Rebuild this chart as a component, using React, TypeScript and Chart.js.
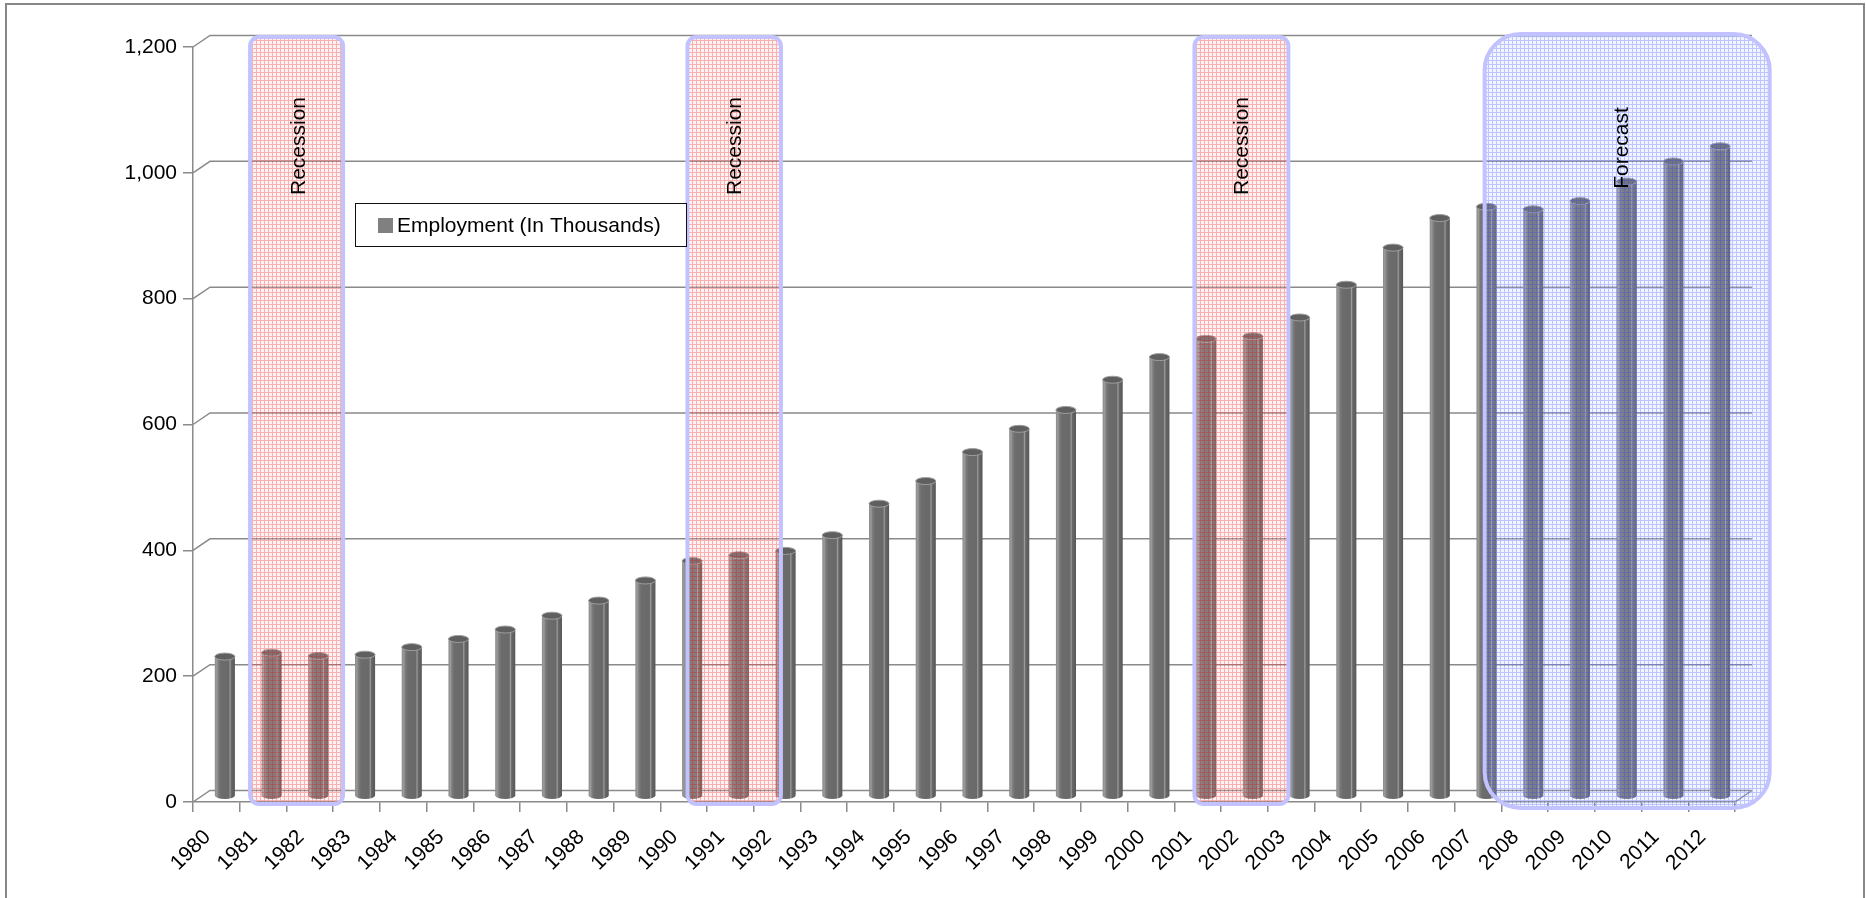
import { useEffect, useRef } from 'react';
import { Chart, registerables } from 'chart.js';

Chart.register(...registerables);

// Annual employment, thousands
const years = [
  '1980', '1981', '1982', '1983', '1984', '1985', '1986', '1987', '1988', '1989',
  '1990', '1991', '1992', '1993', '1994', '1995', '1996', '1997', '1998', '1999',
  '2000', '2001', '2002', '2003', '2004', '2005', '2006', '2007', '2008', '2009',
  '2010', '2011', '2012',
];
const employment = [
  222, 228, 223, 225, 237, 250, 265, 287, 311, 343,
  374, 383, 390, 415, 465, 501, 547, 584, 614, 662,
  698, 727, 731, 761, 813, 872, 919, 937, 933, 946,
  977, 1009, 1033,
];
const seriesLabel = 'Employment (In Thousands)';
const yMin = 0;
const yMax = 1200;
const yStep = 200;

// Highlighted periods, in category-index units (0 = 1980)
const recessionSpans: [number, number][] = [
  [0.54, 2.53],
  [9.9, 11.9],
  [20.75, 22.76],
];
const forecastSpan: [number, number] = [26.96, 33.06];
const recessionText = 'Recession';
const forecastText = 'Forecast';

// Depth of the 3-D box: offset of the back wall from the front plane
const DEPTH_X = 17;
const DEPTH_Y = -11.5;
const FONT = '"Liberation Sans", Arial, sans-serif';
const FONT_SIZE = 21;
const GRID = '#8a8a8a';

function makePattern(ctx: CanvasRenderingContext2D, line: string, cell: string) {
  const c = document.createElement('canvas');
  c.width = 4;
  c.height = 4;
  const g = c.getContext('2d')!;
  g.fillStyle = cell;
  g.fillRect(1, 1, 3, 3);
  g.fillStyle = line;
  g.fillRect(0, 0, 4, 1);
  g.fillRect(0, 1, 1, 3);
  return ctx.createPattern(c, 'repeat');
}

function roundRectPath(ctx: CanvasRenderingContext2D, x: number, y: number, w: number, h: number, r: number) {
  ctx.beginPath();
  ctx.moveTo(x + r, y);
  ctx.lineTo(x + w - r, y);
  ctx.arcTo(x + w, y, x + w, y + r, r);
  ctx.lineTo(x + w, y + h - r);
  ctx.arcTo(x + w, y + h, x + w - r, y + h, r);
  ctx.lineTo(x + r, y + h);
  ctx.arcTo(x, y + h, x, y + h - r, r);
  ctx.lineTo(x, y + r);
  ctx.arcTo(x, y, x + r, y, r);
  ctx.closePath();
}

const wall3d = {
  id: 'wall3d',
  beforeDatasetsDraw(chart: any) {
    const { ctx, chartArea, scales } = chart;
    const y = scales.y;
    ctx.save();
    ctx.strokeStyle = GRID;
    ctx.lineWidth = 1.5;
    for (let v = yMin; v <= yMax; v += yStep) {
      const fy = y.getPixelForValue(v);
      ctx.beginPath();
      ctx.moveTo(chartArea.left, fy);
      ctx.lineTo(chartArea.left + DEPTH_X, fy + DEPTH_Y);
      ctx.lineTo(chartArea.right + DEPTH_X, fy + DEPTH_Y);
      ctx.stroke();
    }
    ctx.beginPath();
    ctx.moveTo(chartArea.right, chartArea.bottom);
    ctx.lineTo(chartArea.right + DEPTH_X, chartArea.bottom + DEPTH_Y);
    ctx.stroke();
    ctx.restore();
  },
  beforeDatasetDraw(chart: any, args: any) {
    const { ctx } = chart;
    const meta = chart.getDatasetMeta(args.index);
    ctx.save();
    meta.data.forEach((el: any) => {
      const p = el.getProps(['x', 'y', 'base', 'width'], true);
      const cx = p.x + DEPTH_X / 2;
      const top = p.y + DEPTH_Y / 2;
      const bot = p.base + DEPTH_Y / 2;
      const w = p.width;
      const l = cx - w / 2;
      const rx = w / 2;
      const ry = 3.5;
      const grad = ctx.createLinearGradient(l, 0, l + w, 0);
      grad.addColorStop(0, '#8c8c8c');
      grad.addColorStop(0.1, '#9a9a9a');
      grad.addColorStop(0.18, '#7c7c7c');
      grad.addColorStop(0.3, '#6c6c6c');
      grad.addColorStop(0.7, '#696969');
      grad.addColorStop(0.76, '#9c9c9c');
      grad.addColorStop(0.82, '#686868');
      grad.addColorStop(1, '#585858');
      ctx.beginPath();
      ctx.moveTo(l, top);
      ctx.lineTo(l, bot);
      ctx.ellipse(cx, bot, rx, ry, 0, Math.PI, 0, true);
      ctx.lineTo(l + w, top);
      ctx.closePath();
      ctx.fillStyle = grad;
      ctx.fill();
      ctx.beginPath();
      ctx.ellipse(cx, top, rx, ry, 0, 0, Math.PI * 2);
      ctx.fillStyle = '#5f5f5f';
      ctx.fill();
      ctx.strokeStyle = '#9e9e9e';
      ctx.lineWidth = 1;
      ctx.stroke();
    });
    ctx.restore();
    return false;
  },
  afterDatasetsDraw(chart: any) {
    const { ctx, scales } = chart;
    const x = scales.x;
    const y = scales.y;
    const px = (v: number) => x.getPixelForValue(v) + DEPTH_X / 2;
    const pink = makePattern(ctx, 'rgba(235,70,70,0.42)', 'rgba(255,190,190,0.2)');
    const blue = makePattern(ctx, 'rgba(90,110,255,0.4)', 'rgba(190,200,255,0.2)');
    const topY = y.getPixelForValue(yMax);
    const botY = y.getPixelForValue(yMin);

    const drawBox = (
      x0: number, x1: number, y0: number, y1: number, r: number,
      fill: any, text: string, textDx: number, textY: number,
    ) => {
      ctx.save();
      roundRectPath(ctx, x0, y0, x1 - x0, y1 - y0, r);
      ctx.fillStyle = fill;
      ctx.fill();
      ctx.strokeStyle = '#c2c2ff';
      ctx.lineWidth = 4;
      ctx.stroke();
      ctx.translate((x0 + x1) / 2 + textDx, textY);
      ctx.rotate(-Math.PI / 2);
      ctx.fillStyle = '#000';
      ctx.font = `${FONT_SIZE}px ${FONT}`;
      ctx.textAlign = 'center';
      ctx.textBaseline = 'middle';
      ctx.fillText(text, 0, 0);
      ctx.restore();
    };

    recessionSpans.forEach(([a, b], i) => {
      drawBox(px(a), px(b), topY - 10, botY + 2, 9, pink, recessionText, i === 0 ? 3 : 1, 146);
    });
    drawBox(px(forecastSpan[0]), px(forecastSpan[1]), topY - 13, botY + 6, 36, blue, forecastText, -5, 148);
  },
  afterDraw(chart: any) {
    const { ctx } = chart;
    const ds = chart.data.datasets[0];
    ctx.save();
    // legend box
    ctx.fillStyle = '#fff';
    ctx.fillRect(355, 203, 331, 43);
    ctx.strokeStyle = '#111';
    ctx.lineWidth = 1;
    ctx.strokeRect(355.5, 203.5, 331, 43);
    ctx.fillStyle = ds.backgroundColor;
    ctx.fillRect(378, 218, 15, 15);
    ctx.fillStyle = '#000';
    ctx.font = `${FONT_SIZE}px ${FONT}`;
    ctx.textAlign = 'left';
    ctx.textBaseline = 'middle';
    ctx.fillText(ds.label, 397, 226);
    // outer frame
    ctx.strokeStyle = '#878787';
    ctx.lineWidth = 2;
    ctx.strokeRect(6, 4, 1858, 900);
    ctx.restore();
  },
};

export default function App() {
  const canvasRef = useRef<HTMLCanvasElement | null>(null);

  useEffect(() => {
    const canvas = canvasRef.current;
    if (!canvas) return;
    const chart = new Chart(canvas, {
      type: 'bar',
      data: {
        labels: years,
        datasets: [
          {
            label: seriesLabel,
            data: employment,
            backgroundColor: '#808080',
            barPercentage: 0.43,
            categoryPercentage: 1,
          },
        ],
      },
      options: {
        responsive: false,
        animation: false,
        devicePixelRatio: 1,
        font: { family: FONT, size: FONT_SIZE },
        layout: { padding: { left: 0, top: 47, right: 131, bottom: 0 } },
        plugins: {
          legend: { display: false },
          tooltip: { enabled: false },
        },
        scales: {
          x: {
            grid: {
              display: true,
              drawOnChartArea: false,
              drawTicks: true,
              tickLength: 10,
              color: GRID,
              lineWidth: 1.5,
              offset: true,
            },
            border: { display: true, color: GRID, width: 1.5 },
            ticks: {
              autoSkip: false,
              minRotation: 45,
              maxRotation: 45,
              color: '#000',
              font: { family: FONT, size: FONT_SIZE },
              padding: 13,
              labelOffset: -9,
            },
            afterFit: (s: any) => {
              s.height = 96;
            },
          },
          y: {
            min: yMin,
            max: yMax,
            grid: {
              drawOnChartArea: false,
              drawTicks: true,
              tickLength: 10,
              color: GRID,
              lineWidth: 1.5,
            },
            border: { display: true, color: GRID, width: 1.5 },
            ticks: {
              stepSize: yStep,
              color: '#000',
              font: { family: FONT, size: FONT_SIZE },
              padding: 6,
            },
            afterFit: (s: any) => {
              s.width = 193;
            },
          },
        },
      } as any,
      plugins: [wall3d],
    });
    return () => chart.destroy();
  }, []);

  return (
    <div style={{ position: 'fixed', left: 0, top: 0, width: 1866, height: 898, background: '#fff' }}>
      <canvas ref={canvasRef} width={1866} height={898} style={{ display: 'block' }} />
    </div>
  );
}
